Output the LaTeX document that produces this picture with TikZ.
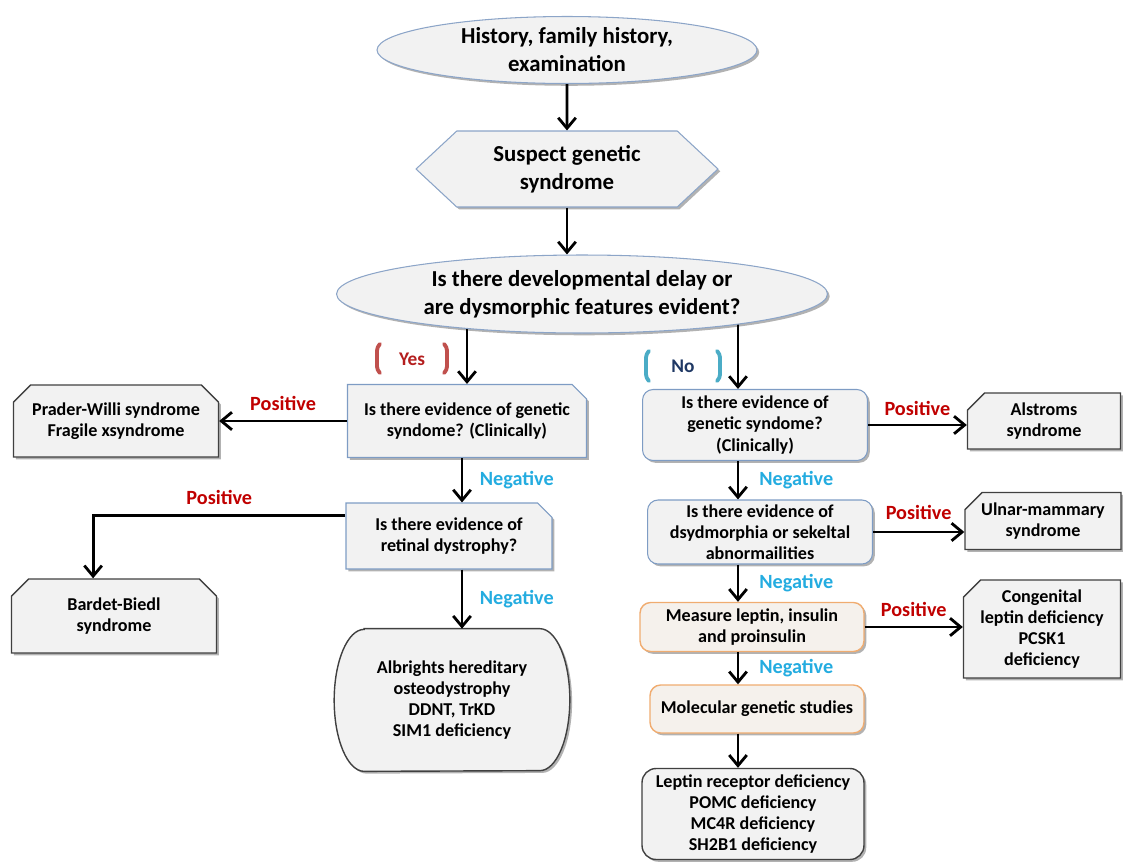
\documentclass[tikz,border=0pt]{standalone}
\usepackage{fontspec}
\setmainfont{Carlito}
\usetikzlibrary{shapes.geometric,shapes.misc,shapes.symbols,arrows.meta,shadows}
\pgfdeclarelayer{background}
\pgfsetlayers{background,main}

\definecolor{boxgrey}{RGB}{242,242,242}
\definecolor{ovalblue}{RGB}{140,165,200}
\definecolor{qblue}{RGB}{126,156,196}
\definecolor{qorange}{RGB}{240,172,112}
\definecolor{ofill}{RGB}{245,241,236}
\definecolor{darkline}{RGB}{64,64,64}
\definecolor{posred}{RGB}{192,0,0}
\definecolor{negblue}{RGB}{36,172,224}
\definecolor{yesred}{RGB}{180,30,30}
\definecolor{yesbr}{RGB}{192,80,77}
\definecolor{nonavy}{RGB}{31,56,100}
\definecolor{nobr}{RGB}{75,172,198}

\begin{document}
\begin{tikzpicture}[x=0.02cm, y=-0.02cm,
  every node/.style={font=\bfseries\fontsize{10.3}{12}\selectfont, align=center},
  boxshadow/.style={drop shadow={shadow xshift=1.3pt, shadow yshift=-1.3pt, opacity=0.3, fill=black}},
  oval/.style={ellipse, draw=ovalblue, fill=boxgrey, line width=0.6pt, inner sep=0pt,
    font=\bfseries\fontsize{13}{16}\selectfont, boxshadow},
  hexa/.style={signal, signal to=west and east, signal pointer angle=86, draw=ovalblue,
    fill=boxgrey, line width=0.6pt, inner sep=0pt, font=\bfseries\fontsize{13}{16}\selectfont, boxshadow},
  query/.style={chamfered rectangle, chamfered rectangle corners=north east,
    chamfered rectangle xsep=5pt, draw=qblue, fill=boxgrey, line width=0.6pt, inner sep=1pt, boxshadow},
  result/.style={chamfered rectangle, chamfered rectangle corners={north west,north east},
    chamfered rectangle xsep=6.5pt, draw=darkline, fill=boxgrey, line width=0.8pt, inner sep=1pt, boxshadow},
  sideresult/.style={result, chamfered rectangle corners=north west},
  rquery/.style={rectangle, rounded corners=6pt, draw=qblue, fill=boxgrey, line width=0.6pt, inner sep=1pt, boxshadow},
  measure/.style={rectangle, rounded corners=6pt, draw=qorange, fill=ofill, line width=0.8pt, inner sep=1pt, boxshadow},
  final/.style={rectangle, rounded corners=8pt, draw=darkline, fill=boxgrey, line width=0.8pt, inner sep=1pt, boxshadow},
  albshape/.style={draw=darkline, fill=boxgrey, line width=0.8pt, boxshadow},
  arr/.style={-{Straight Barb[length=6pt,width=10pt]}, line width=1.6pt},
  poslab/.style={text=posred, font=\bfseries\fontsize{11.5}{13}\selectfont},
  neglab/.style={text=negblue, font=\bfseries\fontsize{11.5}{13}\selectfont},
  brk/.style={line width=2.2pt, line cap=round, line join=round, rounded corners=2pt}]

\useasboundingbox (0,0) rectangle (1123,863);

% top of the chart
\node[oval, minimum width=7.6cm, minimum height=1.34cm] (hist) at (567,50) {History, family history,\\examination};
\node[hexa, minimum width=6.04cm, minimum height=1.52cm] (susp) at (567,169) {Suspect genetic\\syndrome};
\node[oval, minimum width=9.82cm, minimum height=1.56cm] (delay) at (582,294) {Is there developmental delay or\\are dysmorphic features evident?};

% yes branch
\node[query, minimum width=4.78cm, minimum height=1.46cm] (gen1) at (467,421) {Is there evidence of genetic\\syndome? (Clinically)};
\node[result, minimum width=4.1cm, minimum height=1.44cm] (prader) at (116,421) {Prader-Willi syndrome\\Fragile xsyndrome};
\node[query, minimum width=4.12cm, minimum height=1.32cm] (retina) at (449,536) {Is there evidence of\\retinal dystrophy?};
\node[result, minimum width=4.1cm, minimum height=1.48cm] (bardet) at (114,616) {Bardet-Biedl\\syndrome};
\node (albright) at (452,700) [minimum width=4.7cm, minimum height=2.84cm] {Albrights hereditary\\osteodystrophy\\DDNT, TrKD\\SIM1 deficiency};

% no branch
\node[rquery, minimum width=4.5cm, minimum height=1.42cm] (gen2) at (755,425) {Is there evidence of\\genetic syndome?\\(Clinically)};
\node[sideresult, minimum width=3.06cm, minimum height=1.12cm] (alstrom) at (1044,421) {Alstroms\\syndrome};
\node[rquery, minimum width=4.5cm, minimum height=1.28cm] (dysm) at (760,532) {Is there evidence of\\dsydmorphia or sekeltal\\abnormailities};
\node[sideresult, minimum width=3.12cm, minimum height=1.14cm] (ulnar) at (1043,521) {Ulnar-mammary\\syndrome};
\node[measure, minimum width=4.48cm, minimum height=0.98cm] (leptin) at (752,627) {Measure leptin, insulin\\and proinsulin};
\node[sideresult, minimum width=3.14cm, minimum height=1.96cm] (congen) at (1042,629) {Congenital\\leptin deficiency\\PCSK1\\deficiency};
\node[measure, minimum width=4.28cm, minimum height=0.96cm] (molec) at (757,709) {Molecular genetic studies};
\node[final, minimum width=4.44cm, minimum height=1.82cm] (receptor) at (753,814) {Leptin receptor deficiency\\POMC deficiency\\MC4R deficiency\\SH2B1 deficiency};

% yes / no tags
\node[text=yesred, font=\bfseries\fontsize{11}{13}\selectfont] (yes) at (412,359) {Yes};
\draw[brk, yesbr] (yes.center) ++(-32,-15) -- ++(-3,3) -- ++(0,23) -- ++(3,3);
\draw[brk, yesbr] (yes.center) ++(32,-15) -- ++(3,3) -- ++(0,23) -- ++(-3,3);
\node[text=nonavy, font=\bfseries\fontsize{11}{13}\selectfont] (no) at (683,366) {No};
\draw[brk, nobr] (no.center) ++(-34,-15) -- ++(-3,3) -- ++(0,24) -- ++(3,3);
\draw[brk, nobr] (no.center) ++(34,-15) -- ++(3,3) -- ++(0,24) -- ++(-3,3);

\coordinate (lspine) at (462,0);
\coordinate (rspine) at (738,0);

\begin{pgfonlayer}{background}
\draw[albshape] ([xshift=0.6cm]albright.north west) -- ([xshift=-0.6cm]albright.north east)
  arc[start angle=90, end angle=-90, x radius=0.6cm, y radius=1.42cm]
  -- ([xshift=0.6cm]albright.south west)
  arc[start angle=270, end angle=90, x radius=0.6cm, y radius=1.42cm] -- cycle;
\draw[arr] (gen1.north |- delay.center) -- (gen1.north);
\draw[arr] (delay.center -| rspine) -- (gen2.north -| rspine);
\end{pgfonlayer}

\draw[arr] (hist) -- (susp);
\draw[arr] (susp.south) -- (susp.south |- delay.north);

\draw[arr] (gen1.west) -- (gen1.west -| prader.east) node[poslab, midway, above=2pt] {Positive};
\draw[arr] (gen1.south -| lspine) -- (retina.north -| lspine) node[neglab, midway, right=6pt] {Negative};
\draw[arr] (retina.169) -| (bardet.119) node[poslab, pos=0.25, above=2pt] {Positive};
\draw[arr] (retina.south -| lspine) -- (albright.north -| lspine) node[neglab, midway, right=6pt] {Negative};

\draw[arr] (gen2.east) -- (gen2.east -| alstrom.west) node[poslab, midway, above=1pt] {Positive};
\draw[arr] (gen2.south -| rspine) -- (dysm.north -| rspine) node[neglab, midway, right=8pt] {Negative};
\draw[arr] (dysm.east) -- (dysm.east -| ulnar.west) node[poslab, midway, above=3pt] {Positive};
\draw[arr] (dysm.south -| rspine) -- (leptin.north -| rspine) node[neglab, midway, right=8pt] {Negative};
\draw[arr] (leptin.east) -- (leptin.east -| congen.west) node[poslab, midway, above=2pt] {Positive};
\draw[arr] (leptin.south -| rspine) -- (molec.north -| rspine) node[neglab, midway, right=8pt] {Negative};
\draw[arr] (molec.south -| rspine) -- (receptor.north -| rspine);
\end{tikzpicture}
\end{document}
